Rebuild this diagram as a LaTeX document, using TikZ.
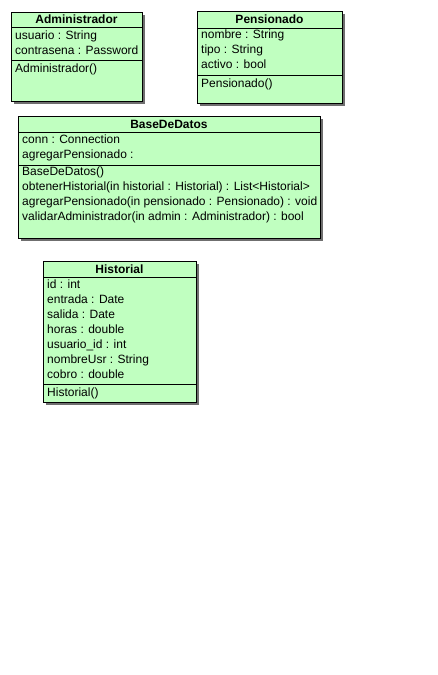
\documentclass[tikz,border=0pt]{standalone}
\usepackage{fontspec}
\setmainfont{Liberation Sans}
\usetikzlibrary{positioning, shadows}
\definecolor{umlgreen}{RGB}{192,255,192}

\begin{document}
\begin{tikzpicture}[x=1pt, y=-1pt,
  classbox/.style={draw=black, fill=umlgreen, line width=0.9pt, anchor=north west, inner sep=0pt,
    drop shadow={shadow xshift=3pt, shadow yshift=-3pt, fill=black!70, opacity=0.8}},
  classname/.style={font=\bfseries\fontsize{12}{15}\selectfont, inner sep=0pt, anchor=base},
  members/.style={font=\fontsize{12}{15}\selectfont, align=left, inner sep=0pt, anchor=north west,
    execute at begin node=\strut},
  sepline/.style={draw=black, line width=0.9pt}]
  \path[use as bounding box, fill=white] (0,0) rectangle (438,675);

  % Administrador
  \node[classbox, minimum width=131pt, minimum height=89pt] (admin) at (11,12) {};
  \node[classname] (admin-name) at (76.5,23.8) {Administrador};
  \draw[sepline] (admin.west |- 0,27) -- (admin.east |- 0,27);
  \node[members] (admin-attr) at (15,30.5) {usuario : String\\contrasena : Password};
  \draw[sepline] (admin.west |- 0,60.5) -- (admin.east |- 0,60.5);
  \node[members] (admin-ops) at (15,61.5) {Administrador()};

  % Pensionado
  \node[classbox, minimum width=145pt, minimum height=92pt] (pens) at (197,11) {};
  \node[classname] (pens-name) at (269.5,23.5) {Pensionado};
  \draw[sepline] (pens.west |- 0,28) -- (pens.east |- 0,28);
  \node[members] (pens-attr) at (201,30) {nombre : String\\tipo : String\\activo : bool};
  \draw[sepline] (pens.west |- 0,75) -- (pens.east |- 0,75);
  \node[members] (pens-ops) at (201,76.5) {Pensionado()};

  % BaseDeDatos
  \node[classbox, minimum width=302pt, minimum height=122pt] (base) at (18,116) {};
  \node[classname] (base-name) at (169,128.3) {BaseDeDatos};
  \draw[sepline] (base.west |- 0,132) -- (base.east |- 0,132);
  \node[members] (base-attr) at (22,134.5) {conn : Connection\\agregarPensionado :};
  \draw[sepline] (base.west |- 0,165) -- (base.east |- 0,165);
  \node[members] (base-ops) at (22,166.5) {BaseDeDatos()\\obtenerHistorial(in historial : Historial) : List<Historial>\\agregarPensionado(in pensionado : Pensionado) : void\\validarAdministrador(in admin : Administrador) : bool};

  % Historial
  \node[classbox, minimum width=153pt, minimum height=141pt] (hist) at (43,261) {};
  \node[classname] (hist-name) at (119.5,273.5) {Historial};
  \draw[sepline] (hist.west |- 0,277) -- (hist.east |- 0,277);
  \node[members] (hist-attr) at (47,279.5) {id : int\\entrada : Date\\salida : Date\\horas : double\\usuario\_id : int\\nombreUsr : String\\cobro : double};
  \draw[sepline] (hist.west |- 0,384) -- (hist.east |- 0,384);
  \node[members] (hist-ops) at (47,386) {Historial()};
\end{tikzpicture}
\end{document}
